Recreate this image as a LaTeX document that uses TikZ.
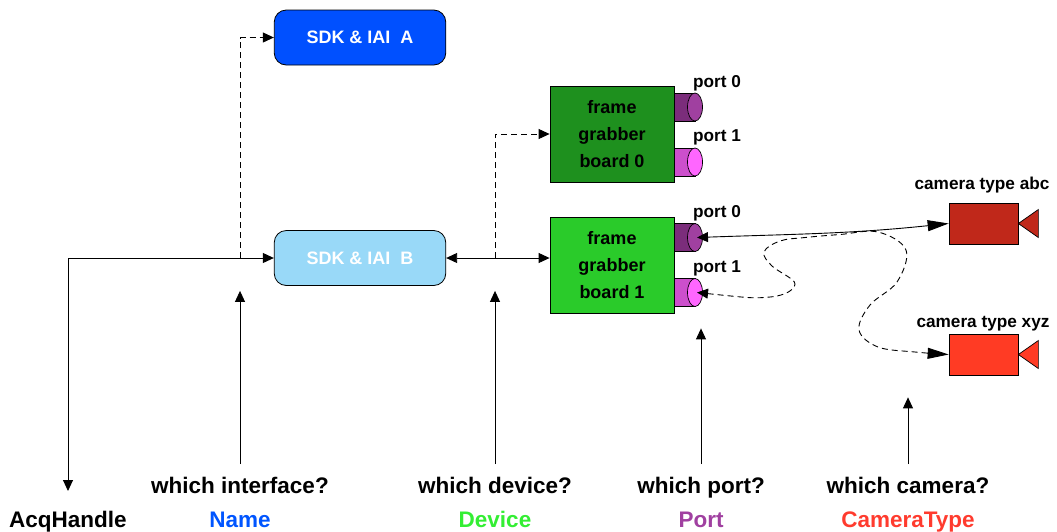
\documentclass[tikz,border=0pt]{standalone}
\usepackage{fontspec}
\setmainfont{Liberation Sans}
\usetikzlibrary{arrows.meta,shapes.geometric}
\definecolor{sdkA}{HTML}{0050FF}
\definecolor{sdkB}{HTML}{99D9F8}
\definecolor{fgA}{HTML}{1E901E}
\definecolor{fgB}{HTML}{2ACB2A}
\definecolor{pAbody}{HTML}{7B2D7B}
\definecolor{pAface}{HTML}{A040A0}
\definecolor{pBbody}{HTML}{CC4FCC}
\definecolor{pBface}{HTML}{FF66FF}
\definecolor{camA}{HTML}{C0281A}
\definecolor{camB}{HTML}{FF3B24}
\definecolor{cName}{HTML}{0055FF}
\definecolor{cDevice}{HTML}{33EE33}
\definecolor{cPort}{HTML}{A040A0}
\definecolor{cCam}{HTML}{FF3B2E}
\tikzset{
  sdk/.style={draw, line width=0.8pt, rounded corners=12pt, minimum width=171.5pt, minimum height=55pt, inner sep=0pt, text=white, font=\bfseries\fontsize{18}{22}\selectfont},
  fg/.style={draw, line width=0.8pt, minimum width=124pt, minimum height=96pt, inner sep=0pt, align=center, font=\bfseries\fontsize{18}{27}\selectfont},
  portface/.style={ellipse, draw, line width=0.7pt, minimum width=15pt, minimum height=28pt, inner sep=0pt},
  cambody/.style={draw, line width=0.7pt, minimum width=69pt, minimum height=41pt, inner sep=0pt},
  lbl/.style={inner sep=0pt, anchor=base, font=\bfseries\fontsize{17.2}{20}\selectfont},
  qlbl/.style={inner sep=0pt, anchor=base, font=\bfseries\fontsize{22.5}{26}\selectfont},
  conn/.style={line width=0.9pt},
  dsh/.style={conn, dash pattern=on 6pt off 4pt},
  tocam/.style={arrows={Triangle[length=11pt,width=10pt]-Triangle[length=21pt,width=11pt]}},
  std/.style={arrows={-Triangle[length=11pt,width=10pt]}},
  both/.style={arrows={Triangle[length=11pt,width=10pt]-Triangle[length=11pt,width=10pt]}},
}
\begin{document}
\begin{tikzpicture}[x=1pt, y=-1pt]
\useasboundingbox (0,0) rectangle (1057,531);

% SDK boxes
\node[sdk, fill=sdkA] (sdka) at (360,37.5) {SDK \& IAI\ \ A};
\node[sdk, fill=sdkB] (sdkb) at (360,258) {SDK \& IAI\ \ B};

% frame grabbers
\node[fg, fill=fgA] (fg0) at (612,134) {frame\\grabber\\board 0};
\node[fg, fill=fgB] (fg1) at (612,265) {frame\\grabber\\board 1};

% ports (cylinders)
\filldraw[fill=pAbody, line width=0.7pt] (674,93) rectangle (695,121);
\node[portface, fill=pAface] (f0p0) at (695,107) {};
\filldraw[fill=pBbody, line width=0.7pt] (674,148) rectangle (695,176);
\node[portface, fill=pBface] (f0p1) at (695,162) {};
\filldraw[fill=pAbody, line width=0.7pt] (674,223.5) rectangle (695,251.5);
\node[portface, fill=pAface] (f1p0) at (695,237.5) {};
\filldraw[fill=pBbody, line width=0.7pt] (674,278.5) rectangle (695,306.5);
\node[portface, fill=pBface] (f1p1) at (695,292.5) {};

\node[lbl] (l00) at (717,87) {port 0};
\node[lbl] (l01) at (717,141.5) {port 1};
\node[lbl] (l10) at (717,217.5) {port 0};
\node[lbl] (l11) at (717,272.5) {port 1};

% cameras
\node[cambody, fill=camA] (cabc) at (983.5,223.5) {};
\filldraw[fill=camA, line width=0.7pt] (cabc.east) -- ++(20,-14) -- ++(0,28) -- cycle;
\node[cambody, fill=camB] (cxyz) at (983.5,354.5) {};
\filldraw[fill=camB, line width=0.7pt] (cxyz.east) -- ++(20,-14) -- ++(0,28) -- cycle;
\node[lbl] (labc) at (982,189.3) {camera type abc};
\node[lbl] (lxyz) at (983,327.3) {camera type xyz};

% bottom labels
\node[qlbl] (acq) at (68,527) {AcqHandle};
\node[qlbl] (q1) at (240,493) {which interface?};
\node[qlbl, text=cName] (n1) at (240,527) {Name};
\node[qlbl] (q2) at (495,493) {which device?};
\node[qlbl, text=cDevice] (n2) at (495,527) {Device};
\node[qlbl] (q3) at (701,493) {which port?};
\node[qlbl, text=cPort] (n3) at (701,527) {Port};
\node[qlbl] (q4) at (908,493) {which camera?};
\node[qlbl, text=cCam] (n4) at (908,527) {CameraType};

% junctions
\coordinate (j1) at (240,258);
\coordinate (j2) at (495,258);

% connectors
\draw[conn, both, shorten >=19.5pt] (sdkb.west) -| (acq.north);
\draw[dsh, std] (j1) |- (sdka.west);
\draw[conn, both] (sdkb.east) -- (sdkb.east -| fg1.west);
\draw[dsh, std] (j2) |- (fg0.west);

\draw[conn, std, shorten <=12.5pt, shorten >=5pt] (q1.north) -- (q1.north |- sdkb.south);
\draw[conn, std, shorten <=12.5pt, shorten >=5pt] (q2.north) -- (q2.north |- sdkb.south);
\draw[conn, std, shorten <=12.5pt, shorten >=15pt] (q3.north) -- (q3.north |- fg1.south);
\draw[conn, std, shorten <=12.5pt, shorten >=22pt] (q4.north) -- (q4.north |- cxyz.south);

\draw[conn, tocam] ([xshift=2pt]f1p0.center) to[out=2, in=186] (cabc.west);
\draw[dsh, tocam] plot[smooth, tension=0.6] coordinates {([xshift=2pt]f1p1.center) (770,297) (795,284) (772,266) (764,252) (780,241) (805,237.5) (840,234.5) (878,232) (906,250) (897,282) (870,305) (859,330) (878,347) (915,352) (cxyz.west)};
\end{tikzpicture}
\end{document}
